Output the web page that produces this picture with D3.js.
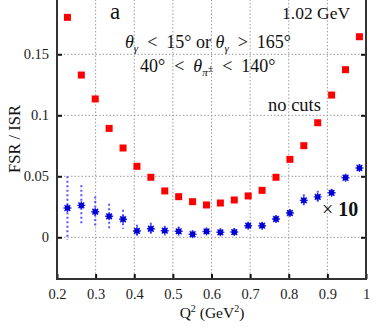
<!DOCTYPE html>
<html><head><meta charset="utf-8">
<script src="https://cdn.jsdelivr.net/npm/d3@7"></script>
<style>
body{margin:0;background:#fff;}
svg{display:block;}
svg text{font-family:'Liberation Serif',serif !important;}
</style></head>
<body><svg id="c" width="376" height="327"></svg>
<script>
const q2 = [0.227,0.263,0.299,0.335,0.371,0.407,0.443,0.479,0.515,0.551,0.587,0.623,0.659,0.695,0.731,0.767,0.803,0.839,0.875,0.911,0.947,0.983];
const noCuts = [0.1803,0.1330,0.1134,0.0893,0.0732,0.0582,0.0492,0.0380,0.0333,0.0292,0.0265,0.0281,0.0306,0.0339,0.0385,0.0492,0.0639,0.0751,0.0939,0.1166,0.1374,0.1644];
const withCutsX10 = [0.0240,0.0262,0.0210,0.0172,0.0148,0.0052,0.0070,0.0054,0.0049,0.0025,0.0048,0.0041,0.0043,0.0095,0.0095,0.0150,0.0199,0.0303,0.0331,0.0365,0.0488,0.0568];
const withCutsErr = [0.026,0.0164,0.0124,0.0102,0.0078,0.005,0.005,0.004,0.004,0.003,0.003,0.003,0.003,0.003,0.003,0.003,0.003,0.005,0.005,0.003,0.003,0.003];
const xTicks = [0.2,0.3,0.4,0.5,0.6,0.7,0.8,0.9,1];
const yTicks = [0,0.05,0.1,0.15];

const svg = d3.select("#c");
const L=57, R=366, B=279;
const x = d3.scaleLinear().domain([0.2,1]).range([L,R]);
const y = d3.scaleLinear().domain([0,0.15]).range([237.3,54.3]);
const T = y(0.195);

// grid
const g = svg.append("g");
g.selectAll("line.gx").data(xTicks.slice(1,-1)).join("line")
  .attr("x1",d=>x(d)).attr("x2",d=>x(d)).attr("y1",T).attr("y2",B)
  .attr("stroke","#999").attr("stroke-width",1).attr("stroke-dasharray","1.5,2");
g.selectAll("line.gy").data(yTicks).join("line")
  .attr("x1",L).attr("x2",R).attr("y1",d=>y(d)).attr("y2",d=>y(d))
  .attr("stroke","#999").attr("stroke-width",1).attr("stroke-dasharray","1.5,2");

// axes
const ax = svg.append("g").attr("transform",`translate(0,${B})`)
  .call(d3.axisBottom(x).tickValues(xTicks).tickSizeInner(-5).tickSizeOuter(0).tickPadding(10).tickFormat(d=>d===1?"1":d3.format(".1f")(d)));
const ay = svg.append("g").attr("transform",`translate(${L},0)`)
  .call(d3.axisLeft(y).tickValues(yTicks).tickSizeInner(-5).tickSizeOuter(0).tickPadding(8).tickFormat(d=>d===0?"0":String(d)));
const ar = svg.append("g").attr("transform",`translate(${R},0)`)
  .call(d3.axisRight(y).tickValues(yTicks).tickSizeInner(-5).tickSizeOuter(0).tickFormat(""));
[ax,ay,ar].forEach(a=>{
  a.attr("font-family",null);
  a.select(".domain").remove();
  a.selectAll(".tick line").attr("stroke","#111").attr("stroke-width",2);
  a.selectAll("text").attr("font-size",14.5).attr("fill","#222");
});
svg.append("line").attr("x1",L).attr("x2",L).attr("y1",T).attr("y2",B+1).attr("stroke","#333").attr("stroke-width",2);
svg.append("line").attr("x1",R).attr("x2",R).attr("y1",T).attr("y2",B+1).attr("stroke","#333").attr("stroke-width",2);
svg.append("line").attr("x1",L-1).attr("x2",R+1).attr("y1",B).attr("y2",B).attr("stroke","#333").attr("stroke-width",2);

// blue error bars
svg.append("g").selectAll("line").data(q2).join("line")
  .attr("x1",d=>x(d)).attr("x2",d=>x(d))
  .attr("y1",(d,i)=>y(withCutsX10[i]+withCutsErr[i])).attr("y2",(d,i)=>y(withCutsX10[i]-withCutsErr[i]))
  .attr("stroke","#5555ff").attr("stroke-width",2).attr("stroke-dasharray","2,2.5");

// red squares
svg.append("g").selectAll("rect").data(q2).join("rect")
  .attr("x",d=>x(d)-3.5).attr("y",(d,i)=>y(noCuts[i])-3.5).attr("width",7).attr("height",7)
  .attr("fill","#ff0000");

// blue stars
const star = (cx,cy)=>{
  const r=4, s=2.9;
  return `M${cx-r},${cy}L${cx+r},${cy}M${cx},${cy-r}L${cx},${cy+r}M${cx-s},${cy-s}L${cx+s},${cy+s}M${cx-s},${cy+s}L${cx+s},${cy-s}`;
};
const bs = svg.append("g");
bs.selectAll("path").data(q2).join("path")
  .attr("d",(d,i)=>star(x(d),y(withCutsX10[i])))
  .attr("stroke","#2222ff").attr("stroke-width",1.4).attr("fill","none");
bs.selectAll("rect").data(q2).join("rect")
  .attr("x",d=>x(d)-2.5).attr("y",(d,i)=>y(withCutsX10[i])-2.5).attr("width",5).attr("height",5)
  .attr("fill","#0000cc");

// texts
const sp = "\u2002";
const txt=(s,xx,yy,size,anchor)=>svg.append("text").attr("x",xx).attr("y",yy).attr("font-size",size)
  .attr("text-anchor",anchor||"start").attr("fill","#111").text(s);
txt("a",110,19,23);
txt("1.02 GeV",282,19,17.5);
const t1 = svg.append("text").attr("x",125).attr("y",48).attr("font-size",18).attr("fill","#111");
t1.append("tspan").attr("font-style","italic").text("θ");
t1.append("tspan").attr("font-style","italic").attr("font-size",11).attr("dy",4).text("γ");
t1.append("tspan").attr("dy",-4).text(sp+"<"+sp+"15° or ");
t1.append("tspan").attr("font-style","italic").text("θ");
t1.append("tspan").attr("font-style","italic").attr("font-size",11).attr("dy",4).text("γ");
t1.append("tspan").attr("dy",-4).text(sp+">"+sp+"165°");
const t2 = svg.append("text").attr("x",140).attr("y",72).attr("font-size",18).attr("fill","#111");
t2.append("tspan").text("40°"+sp+"<"+sp);
t2.append("tspan").attr("font-style","italic").text("θ");
t2.append("tspan").attr("font-style","italic").attr("font-size",11).attr("dy",4).text("π");
t2.append("tspan").attr("font-size",10).attr("dy",-4).text("±");
t2.append("tspan").text(sp+"<"+sp+"140°");
txt("no cuts",268,111,18.5);
const t3 = svg.append("text").attr("x",322).attr("y",216).attr("font-size",20).attr("fill","#111");
t3.append("tspan").text("× ");
t3.append("tspan").attr("font-weight","bold").text("10");

// axis titles
const xt = svg.append("text").attr("x",212).attr("y",318).attr("font-size",15.5).attr("text-anchor","middle").attr("fill","#111");
xt.append("tspan").text("Q");
xt.append("tspan").attr("font-size",10).attr("dy",-6).text("2");
xt.append("tspan").attr("dy",6).text(" (GeV");
xt.append("tspan").attr("font-size",10).attr("dy",-6).text("2");
xt.append("tspan").attr("dy",6).text(")");
svg.append("text").attr("transform","translate(20,139) rotate(-90)").attr("font-size",16.5)
  .attr("text-anchor","middle").attr("fill","#111").text("FSR / ISR");
</script></body></html>
